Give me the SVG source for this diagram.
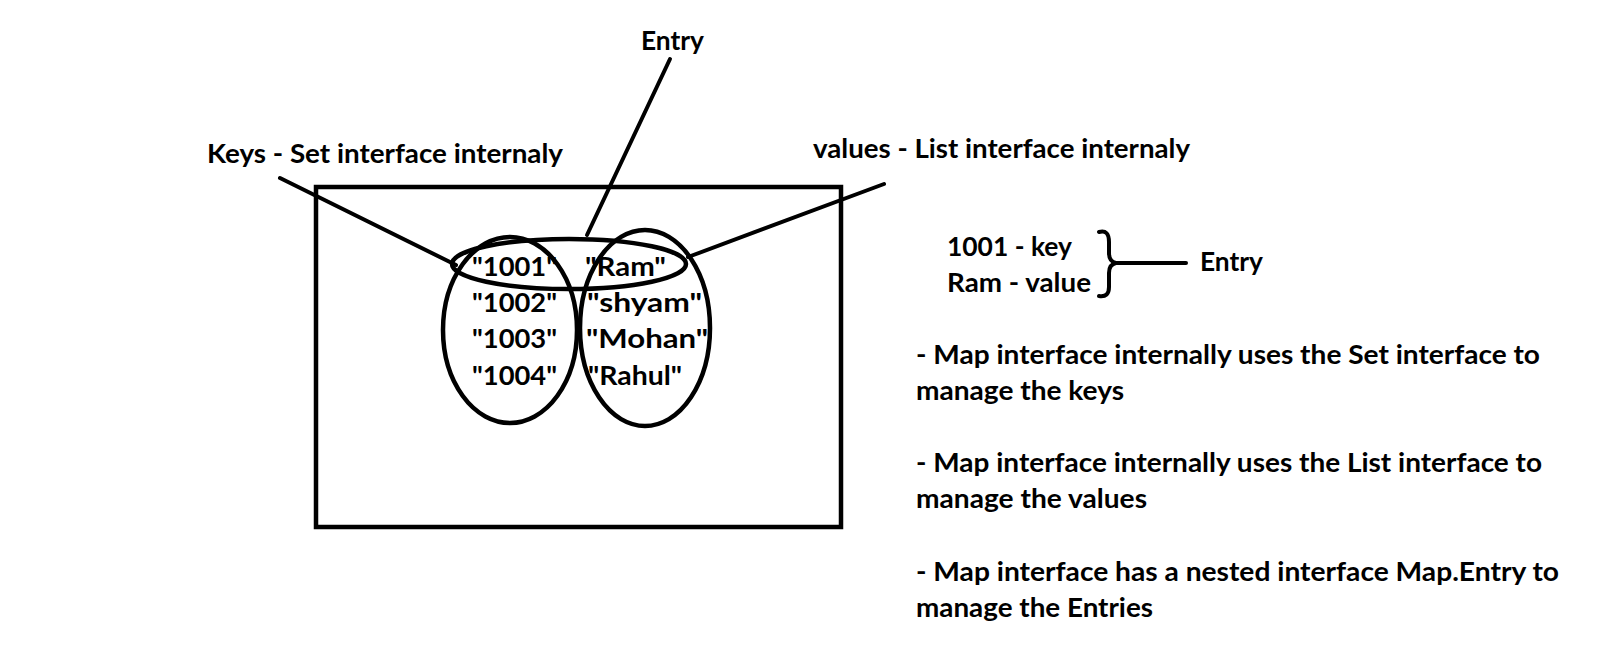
<svg xmlns="http://www.w3.org/2000/svg" width="1597" height="650" viewBox="0 0 1597 650">
<style>
text{font-family:Lato,"Open Sans","Liberation Sans",sans-serif;font-weight:700;font-size:27px;fill:#000}
.s{fill:none;stroke:#000;stroke-width:4.5}
.l{fill:none;stroke:#000;stroke-width:4;stroke-linecap:round}
</style>
<rect width="1597" height="650" fill="#fff"/>
<g id="map-box"><rect class="s" x="316" y="187" width="525" height="340"/></g>
<g id="keys-set"><ellipse class="s" cx="510" cy="330" rx="67" ry="93"/>
<text x="472" y="276" textLength="85" lengthAdjust="spacingAndGlyphs">"1001"</text>
<text x="472" y="312" textLength="85" lengthAdjust="spacingAndGlyphs">"1002"</text>
<text x="472" y="348" textLength="85" lengthAdjust="spacingAndGlyphs">"1003"</text>
<text x="472" y="385" textLength="85" lengthAdjust="spacingAndGlyphs">"1004"</text>
</g>
<g id="values-list"><ellipse class="s" cx="645" cy="328" rx="65" ry="98"/>
<text x="585" y="276" textLength="81" lengthAdjust="spacingAndGlyphs">"Ram"</text>
<text x="587" y="312" textLength="115" lengthAdjust="spacingAndGlyphs">"shyam"</text>
<text x="586" y="348" textLength="122" lengthAdjust="spacingAndGlyphs">"Mohan"</text>
<text x="588" y="385" textLength="94" lengthAdjust="spacingAndGlyphs">"Rahul"</text>
</g>
<g id="entry-oval"><ellipse class="s" cx="569" cy="264" rx="117" ry="25"/></g>
<g id="label-keys"><text x="207" y="163" textLength="356" lengthAdjust="spacingAndGlyphs">Keys - Set interface internaly</text></g>
<g id="label-entry"><text x="641" y="50" textLength="63" lengthAdjust="spacingAndGlyphs">Entry</text></g>
<g id="label-values"><text x="813" y="158" textLength="377" lengthAdjust="spacingAndGlyphs">values - List interface internaly</text></g>
<g id="entry-example">
<text x="947" y="256" textLength="125" lengthAdjust="spacingAndGlyphs">1001 - key</text>
<text x="947" y="292" textLength="144" lengthAdjust="spacingAndGlyphs">Ram - value</text>
<path class="l" d="M1099,232 C1106,230 1109,234 1109,242 L1109,253 C1109,259 1111,262 1116,263 C1111,264 1109,267 1109,273 L1109,287 C1109,294 1106,297 1099,296"/>
<text x="1200" y="271" textLength="63" lengthAdjust="spacingAndGlyphs">Entry</text>
</g>
<g id="notes">
<text x="916" y="364" textLength="624" lengthAdjust="spacingAndGlyphs">- Map interface internally uses the Set interface to</text>
<text x="916" y="400" textLength="208" lengthAdjust="spacingAndGlyphs">manage the keys</text>
<text x="916" y="472" textLength="626" lengthAdjust="spacingAndGlyphs">- Map interface internally uses the List interface to</text>
<text x="916" y="508" textLength="231" lengthAdjust="spacingAndGlyphs">manage the values</text>
<text x="916" y="581" textLength="643" lengthAdjust="spacingAndGlyphs">- Map interface has a nested interface Map.Entry to</text>
<text x="916" y="617" textLength="237" lengthAdjust="spacingAndGlyphs">manage the Entries</text>
</g>
<g id="connectors">
<line class="l" x1="280" y1="178" x2="456" y2="265"/>
<line class="l" x1="670" y1="59" x2="587" y2="235"/>
<line class="l" x1="884" y1="184" x2="688" y2="257"/>
<line class="l" x1="1116" y1="263" x2="1186" y2="263"/>
</g>
</svg>
